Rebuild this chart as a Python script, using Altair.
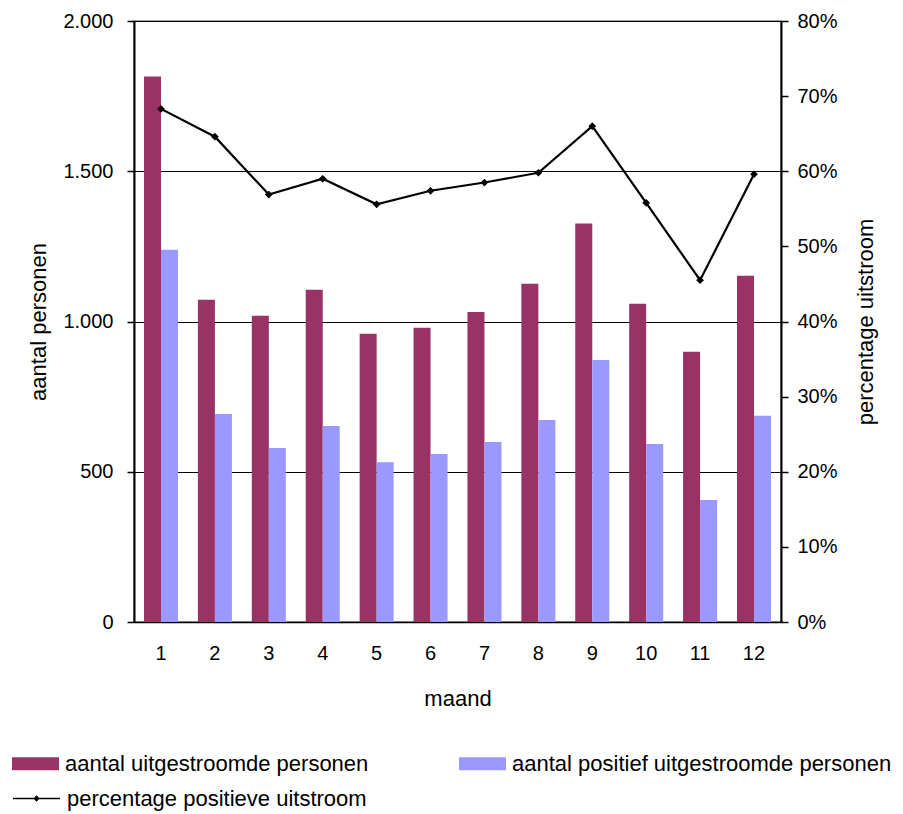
import altair as alt
import pandas as pd

# Monthly outflow figures
maanden = list(range(1, 13))
uitgestroomd = [1815, 1072, 1019, 1106, 959, 979, 1032, 1126, 1326, 1059, 899, 1152]
positief = [1239, 692, 579, 652, 532, 559, 599, 672, 872, 592, 406, 686]
percentage = [68.3, 64.6, 56.9, 59.0, 55.6, 57.4, 58.5, 59.8, 66.0, 55.8, 45.5, 59.6]

serie_namen = ["aantal uitgestroomde personen", "aantal positief uitgestroomde personen"]
lijn_naam = "percentage positieve uitstroom"

bars_df = pd.DataFrame(
    [{"maand": m, "serie": serie_namen[0], "aantal": v} for m, v in zip(maanden, uitgestroomd)]
    + [{"maand": m, "serie": serie_namen[1], "aantal": v} for m, v in zip(maanden, positief)]
)
line_df = pd.DataFrame({"maand": maanden, "pct": percentage, "naam": lijn_naam})

FONT = "Liberation Sans"
FS = 22      # titles and legend
FS_TICK = 20 # tick labels

x_enc = alt.X(
    "maand:O",
    title="maand",
    scale=alt.Scale(paddingInner=0.369, paddingOuter=0.1855),
    axis=alt.Axis(labelAngle=0, ticks=False, domainColor="black", domainWidth=1.5,
                  labelPadding=21, titlePadding=25),
)

bars = alt.Chart(bars_df).mark_bar().encode(
    x=x_enc,
    xOffset=alt.XOffset("serie:N", sort=serie_namen),
    y=alt.Y(
        "aantal:Q",
        title="aantal personen",
        scale=alt.Scale(domain=[0, 2000], nice=False),
        axis=alt.Axis(
            values=[0, 500, 1000, 1500, 2000],
            labelExpr="replace(format(datum.value, ','), ',', '.')",
            grid=True, gridColor="black", gridWidth=1,
            domainColor="black", domainWidth=2, tickColor="black", tickSize=7, tickWidth=1.5,
            labelPadding=14, titlePadding=12,
        ),
    ),
    fill=alt.Fill(
        "serie:N",
        sort=serie_namen,
        scale=alt.Scale(domain=serie_namen, range=["#993366", "#9999FF"]),
        legend=alt.Legend(
            title=None, orient="none", legendX=-122, legendY=719, columns=2, columnPadding=90,
            symbolType="M-1,-0.277H1V0.277H-1Z", symbolSize=2209, symbolStrokeWidth=0,
            labelOffset=6, labelFontSize=FS, labelFont=FONT, labelColor="black",
            labelLimit=600,
        ),
    ),
)

line = alt.Chart(line_df).mark_line(
    strokeWidth=2.2,
    point=alt.OverlayMarkDef(shape="diamond", size=24, filled=True, color="black"),
).encode(
    x=alt.X("maand:O"),
    y=alt.Y(
        "pct:Q",
        title="percentage uitstroom",
        scale=alt.Scale(domain=[0, 80], nice=False),
        axis=alt.Axis(
            orient="right", values=[0, 10, 20, 30, 40, 50, 60, 70, 80],
            labelExpr="datum.value + '%'", grid=False,
            domainColor="black", domainWidth=2, tickColor="black", tickSize=7, tickWidth=1.5,
            labelPadding=9, titleAngle=270, titlePadding=40,
        ),
    ),
    stroke=alt.Stroke(
        "naam:N",
        scale=alt.Scale(domain=[lijn_naam], range=["black"]),
        legend=alt.Legend(
            title=None, orient="none", legendX=-122, legendY=753,
            symbolType="M-1,0H1M-0.09,0L0,-0.09L0.09,0L0,0.09Z", symbolSize=2209,
            symbolStrokeWidth=1.5, symbolFillColor="black",
            labelOffset=6, labelFontSize=FS, labelFont=FONT, labelColor="black",
            labelLimit=600,
        ),
    ),
)

chart = (
    alt.layer(bars, line)
    .resolve_scale(y="independent", fill="independent", stroke="independent")
    .properties(
        width=647, height=601,
        autosize=alt.AutoSizeParams(type="none"),
        padding={"left": 134, "top": 21, "right": 122, "bottom": 192},
        background="white",
    )
    .configure_view(stroke="#808080", strokeWidth=1.5)
    .configure_axis(
        labelFont=FONT, titleFont=FONT, labelFontSize=FS_TICK, titleFontSize=FS,
        labelColor="black", titleColor="black", titleFontWeight="normal",
    )
)

chart.save("out.html", embed_options={"renderer": "svg", "actions": False})
